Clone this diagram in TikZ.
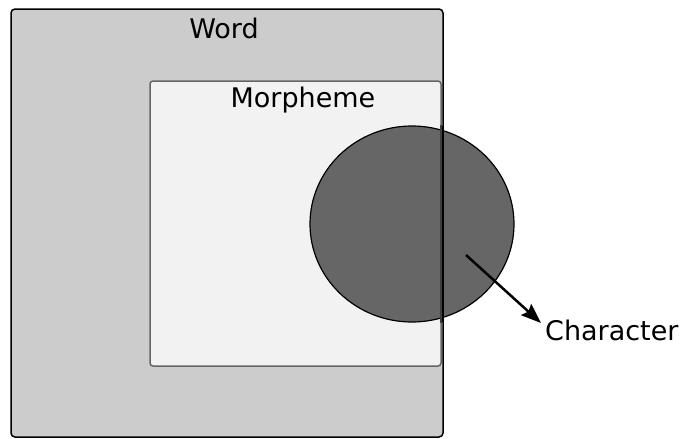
\documentclass[tikz,border=0pt]{standalone}
\usepackage{fontspec}
\setmainfont{DejaVu Sans}
\usetikzlibrary{arrows.meta}
\definecolor{wordfill}{HTML}{CCCCCC}
\definecolor{morphfill}{HTML}{F2F2F2}
\definecolor{charfill}{HTML}{666666}
\tikzset{
  lbl/.style={font=\fontsize{27}{32}\selectfont, inner sep=0pt},
  wordbox/.style={draw=black, line width=1.5pt, fill=wordfill, rounded corners=4pt},
  morphbox/.style={draw=charfill, line width=1.5pt, fill=morphfill, rounded corners=3pt},
}
\begin{document}
\begin{tikzpicture}[x=1pt,y=-1pt]
\useasboundingbox (0,0) rectangle (683,439);
\draw[wordbox] (11,9) rectangle (443,437);
\draw[morphbox] (150,81) rectangle (441,366);
\node[lbl] (word) at (224,28) {Word};
\node[lbl] (morph) at (303,100) {Morpheme};
\draw[black, line width=1.2pt, fill=charfill] (412,224) ellipse [x radius=102, y radius=98];
\coordinate (charc) at (466,255);
\draw[charfill!60!black, line width=1.5pt] (441,125) -- (441,323);
\draw[black, line width=1.2pt] (443,126) -- (443,322);
\node[lbl, anchor=west] (char) at (545,330) {Character};
\coordinate (tip) at (541,323);
\draw[-{Stealth[length=20pt,width=15pt,inset=3pt]}, line width=2.5pt] (charc) -- (tip);
\end{tikzpicture}
\end{document}
